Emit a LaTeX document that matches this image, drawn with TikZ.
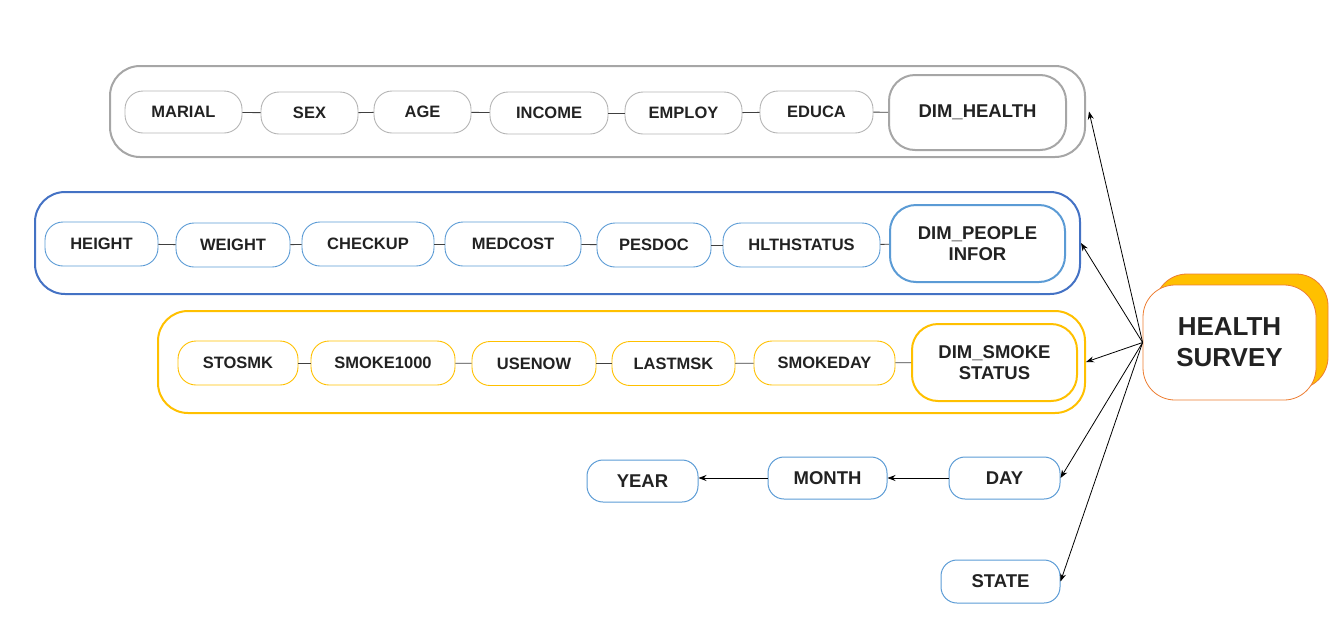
\documentclass[tikz,border=0pt]{standalone}
\usepackage{fontspec}
\setmainfont{Liberation Sans}
\usetikzlibrary{arrows.meta}
\definecolor{gOut}{HTML}{A6A6A6}
\definecolor{gIn}{HTML}{B4B4B4}
\definecolor{bOut}{HTML}{4472C4}
\definecolor{bIn}{HTML}{5B9BD5}
\definecolor{yel}{HTML}{FFC000}
\definecolor{org}{HTML}{ED7D31}
\definecolor{txt}{HTML}{222222}
\definecolor{link}{HTML}{404040}
\tikzset{
  box/.style={rectangle, rounded corners=#1, inner sep=0pt, align=center, text=txt, font=\bfseries\fontsize{16.5}{20}\selectfont},
  small/.style={box=18pt, line width=0.9pt},
  dimbox/.style={box=26pt, line width=2pt, font=\bfseries\fontsize{18.5}{21}\selectfont},
  outer/.style={rectangle, rounded corners=30pt, line width=2pt, inner sep=0pt},
  timebox/.style={box=16pt, line width=1pt, draw=bIn, font=\bfseries\fontsize{18.5}{22}\selectfont},
  lnk/.style={draw=link, line width=0.9pt},
  arr/.style={draw=black, line width=0.8pt, -{Stealth[length=8pt,width=6pt]}},
}
\begin{document}
\begin{tikzpicture}[x=1pt,y=-1pt]
\useasboundingbox (0,0) rectangle (1341,635);
% outer boxes
\node[outer, draw=gOut, minimum width=975pt, minimum height=91pt] (o1) at (597.5,111.5) {};
\node[outer, draw=bOut, minimum width=1045pt, minimum height=102pt] (o2) at (557.5,243) {};
\node[outer, draw=yel, minimum width=927pt, minimum height=102pt] (o3) at (621.5,362) {};
% row 1
\node[small, draw=gIn, minimum width=117pt, minimum height=42pt] (marial) at (183.5,112) {MARIAL};
\node[small, draw=gIn, minimum width=97pt, minimum height=42pt] (sex) at (309.5,113) {SEX};
\node[small, draw=gIn, minimum width=97pt, minimum height=42pt] (age) at (422.5,112) {AGE};
\node[small, draw=gIn, minimum width=118pt, minimum height=42pt] (income) at (549,113) {INCOME};
\node[small, draw=gIn, minimum width=117pt, minimum height=42pt] (employ) at (683.5,113) {EMPLOY};
\node[small, draw=gIn, minimum width=113pt, minimum height=42pt] (educa) at (816.5,112) {EDUCA};
\node[dimbox, draw=gOut, minimum width=177pt, minimum height=75pt] (dh) at (977.5,112.5) {DIM\_HEALTH};
\draw[lnk] (marial) -- (sex);
\draw[lnk] (sex) -- (age);
\draw[lnk] (age) -- (income);
\draw[lnk] (income) -- (employ);
\draw[lnk] (employ) -- (educa);
\draw[lnk] (educa) -- (dh);
% row 2
\node[small, draw=bIn, minimum width=113pt, minimum height=44pt] (height) at (101.5,244) {HEIGHT};
\node[small, draw=bIn, minimum width=114pt, minimum height=44pt] (weight) at (233,245) {WEIGHT};
\node[small, draw=bIn, minimum width=132pt, minimum height=44pt] (checkup) at (368,244) {CHECKUP};
\node[small, draw=bIn, minimum width=136pt, minimum height=44pt] (medcost) at (513,244) {MEDCOST};
\node[small, draw=bIn, minimum width=114pt, minimum height=44pt] (pesdoc) at (654,245) {PESDOC};
\node[small, draw=bIn, minimum width=157pt, minimum height=44pt] (hlth) at (801.5,245) {HLTHSTATUS};
\node[dimbox, draw=bIn, minimum width=175pt, minimum height=77pt] (dp) at (977.5,243.5) {DIM\_PEOPLE\\INFOR};
\draw[lnk] (height) -- (weight);
\draw[lnk] (weight) -- (checkup);
\draw[lnk] (checkup) -- (medcost);
\draw[lnk] (medcost) -- (pesdoc);
\draw[lnk] (pesdoc) -- (hlth);
\draw[lnk] (hlth) -- (dp);
% row 3
\node[small, draw=yel, minimum width=120pt, minimum height=44pt] (stosmk) at (238,363) {STOSMK};
\node[small, draw=yel, minimum width=144pt, minimum height=44pt] (smoke) at (383,363) {SMOKE1000};
\node[small, draw=yel, minimum width=124pt, minimum height=44pt] (usenow) at (534,363.5) {USENOW};
\node[small, draw=yel, minimum width=123pt, minimum height=44pt] (lastmsk) at (673.5,363.5) {LASTMSK};
\node[small, draw=yel, minimum width=141pt, minimum height=44pt] (smokeday) at (824.5,363) {SMOKEDAY};
\node[dimbox, draw=yel, minimum width=165pt, minimum height=77pt] (ds) at (994.5,362.5) {DIM\_SMOKE\\STATUS};
\draw[lnk] (stosmk) -- (smoke);
\draw[lnk] (smoke) -- (usenow);
\draw[lnk] (usenow) -- (lastmsk);
\draw[lnk] (lastmsk) -- (smokeday);
\draw[lnk] (smokeday) -- (ds);
% health survey
\node[box=32pt, draw=org, fill=yel, line width=0.8pt, minimum width=173pt, minimum height=115pt] (hsshadow) at (1241.5,331.5) {};
\node[box=32pt, draw=org, fill=white, line width=0.8pt, minimum width=173pt, minimum height=115pt, font=\bfseries\fontsize{26}{31}\selectfont] (hs) at (1229.5,342.5) {HEALTH\\SURVEY};
% time
\node[timebox, minimum width=111pt, minimum height=42pt] (year) at (642.5,481) {YEAR};
\node[timebox, minimum width=119pt, minimum height=42pt] (month) at (827.5,478) {MONTH};
\node[timebox, minimum width=111pt, minimum height=42pt] (day) at (1004.5,478) {DAY};
\node[timebox, minimum width=119pt, minimum height=43pt] (state) at (1000.5,581.5) {STATE};
\draw[arr] (day) -- (month);
\draw[arr] (month.west) -- (year.east |- month.west);
% arrows from health survey
\draw[arr] (hs.west) -- ([xshift=3pt]o1.east);
\draw[arr] (hs.west) -- (o2.east);
\draw[arr] (hs.west) -- (o3.east);
\draw[arr] (hs.west) -- (day.east);
\draw[arr] (hs.west) -- (state.east);
\end{tikzpicture}
\end{document}
